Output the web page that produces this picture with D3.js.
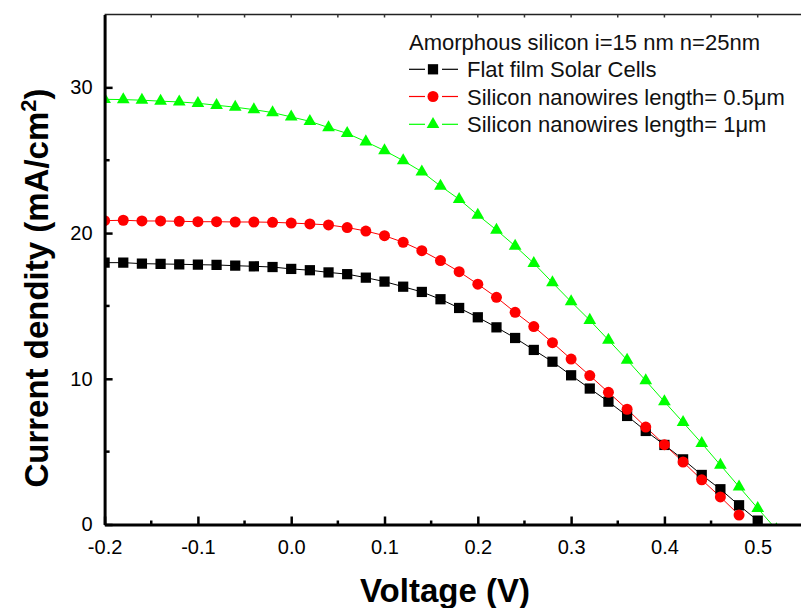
<!DOCTYPE html>
<html>
<head>
<meta charset="UTF-8">
<title>J-V curves</title>
<script src="https://cdnjs.cloudflare.com/ajax/libs/d3/7.8.5/d3.min.js"></script>
<style type="text/css">
body { margin: 0; background: #fff; }
svg { display: block; font-family: Arial, "Liberation Sans", sans-serif; }
</style>
</head>
<body>
<div class="chart"></div>
<script>
// voltage (V) and current density (mA/cm2)
var voltFlat = [-0.20,-0.18,-0.16,-0.14,-0.12,-0.10,-0.08,-0.06,-0.04,-0.02,0.00,0.02,0.04,0.06,0.08,0.10,0.12,0.14,0.16,0.18,0.20,0.22,0.24,0.26,0.28,0.30,0.32,0.34,0.36,0.38,0.40,0.42,0.44,0.46,0.48,0.50];
var flatFilm = [17.97,17.97,17.90,17.88,17.86,17.83,17.81,17.76,17.72,17.67,17.54,17.45,17.30,17.18,16.94,16.67,16.32,15.96,15.46,14.86,14.22,13.53,12.80,11.98,11.17,10.24,9.33,8.43,7.45,6.42,5.46,4.47,3.40,2.42,1.32,0.26];

var voltNw05 = [-0.20,-0.18,-0.16,-0.14,-0.12,-0.10,-0.08,-0.06,-0.04,-0.02,0.00,0.02,0.04,0.06,0.08,0.10,0.12,0.14,0.16,0.18,0.20,0.22,0.24,0.26,0.28,0.30,0.32,0.34,0.36,0.38,0.40,0.42,0.44,0.46,0.48];
var nw05 = [20.85,20.88,20.83,20.83,20.81,20.78,20.78,20.76,20.76,20.74,20.69,20.63,20.56,20.38,20.14,19.82,19.37,18.79,18.11,17.35,16.49,15.59,14.56,13.58,12.48,11.35,10.22,9.07,7.91,6.69,5.48,4.29,3.07,1.89,0.65];

var voltNw1 = [-0.20,-0.18,-0.16,-0.14,-0.12,-0.10,-0.08,-0.06,-0.04,-0.02,0.00,0.02,0.04,0.06,0.08,0.10,0.12,0.14,0.16,0.18,0.20,0.22,0.24,0.26,0.28,0.30,0.32,0.34,0.36,0.38,0.40,0.42,0.44,0.46,0.48,0.50,0.52];
var nw1 = [29.18,29.16,29.12,29.05,29.00,28.91,28.77,28.64,28.47,28.27,27.97,27.67,27.24,26.84,26.27,25.66,24.97,24.21,23.23,22.32,21.24,20.21,19.11,17.93,16.60,15.29,14.02,12.66,11.29,9.87,8.43,7.01,5.57,4.08,2.59,1.11,-0.35];

var xTicks = [-0.2,-0.1,0.0,0.1,0.2,0.3,0.4,0.5];
var yTicks = [0,10,20,30];
var legendTitle = "Amorphous silicon i=15 nm n=25nm";
var seriesNames = ["Flat film Solar Cells","Silicon nanowires length= 0.5\u03bcm","Silicon nanowires length= 1\u03bcm"];

var series = [
  {name: seriesNames[0], x: voltFlat, y: flatFilm, color: "#000000", shape: d3.symbolSquare, size: 105},
  {name: seriesNames[1], x: voltNw05, y: nw05, color: "#ff0000", shape: d3.symbolCircle, size: 95},
  {name: seriesNames[2], x: voltNw1, y: nw1, color: "#00ff00", shape: d3.symbolTriangle, size: 70}
];

var W = 801, H = 608;
var svg = d3.select(".chart").append("svg")
  .attr("width", W)
  .attr("height", H);

var x = d3.scaleLinear().domain([-0.2, 0.56]).range([104.6, 813.7]);
var y = d3.scaleLinear().domain([0, 35]).range([524.5, 14.5]);

svg.append("clipPath").attr("id","plotclip")
  .append("rect")
  .attr("x", x(-0.2)).attr("y", y(35))
  .attr("width", x(0.56)-x(-0.2)).attr("height", y(0)-y(35));

// top frame line
svg.append("line")
  .attr("x1", x(-0.2)).attr("x2", x(0.56))
  .attr("y1", y(35)).attr("y2", y(35))
  .attr("stroke","#222").attr("stroke-width",1.6);

// top minor ticks
var topTicks = d3.range(-0.15, 0.55, 0.05);
svg.selectAll(".ttick").data(topTicks).enter().append("line")
  .attr("x1", function(d){ return x(d); }).attr("x2", function(d){ return x(d); })
  .attr("y1", y(35)).attr("y2", y(35)+3)
  .attr("stroke","#333").attr("stroke-width",1.5);

// lines and markers
var line = d3.line()
  .x(function(d){ return x(d[0]); })
  .y(function(d){ return y(d[1]); });

var plot = svg.append("g").attr("clip-path","url(#plotclip)");

series.forEach(function(s){
  var pts = s.x.map(function(v,i){ return [v, s.y[i]]; });
  plot.append("path")
    .datum(pts)
    .attr("d", line)
    .attr("fill","none")
    .attr("stroke", s.color)
    .attr("stroke-width", 1);
});

series.forEach(function(s){
  var pts = s.x.map(function(v,i){ return [v, s.y[i]]; });
  plot.selectAll(null).data(pts).enter().append("path")
    .attr("d", d3.symbol().type(s.shape).size(s.size))
    .attr("transform", function(d){ return "translate(" + x(d[0]) + "," + y(d[1]) + ")"; })
    .attr("fill", s.color);
});

// bottom axis
var xAxis = d3.axisBottom(x)
  .tickValues(xTicks)
  .tickSizeInner(-8)
  .tickSizeOuter(0)
  .tickPadding(15)
  .tickFormat(d3.format(".1f"));
var gx = svg.append("g")
  .attr("transform","translate(0," + y(0) + ")")
  .call(xAxis);
gx.select(".domain").attr("stroke","#000").attr("stroke-width",3);
gx.selectAll(".tick line").attr("stroke","#000").attr("stroke-width",2.5);
gx.selectAll(".tick text").attr("font-size",20).attr("font-family","Arial, 'Liberation Sans', sans-serif").attr("fill","#000");
gx.selectAll(".tick text").text(function(d){ return d3.format(".1f")(d).replace("\u2212","-"); });

// x minor ticks
var xMinor = d3.range(-0.15, 0.55, 0.1);
svg.selectAll(".xminor").data(xMinor).enter().append("line")
  .attr("x1", function(d){ return x(d); }).attr("x2", function(d){ return x(d); })
  .attr("y1", y(0)).attr("y2", y(0)-4)
  .attr("stroke","#000").attr("stroke-width",2.5);

// left axis
var yAxis = d3.axisLeft(y)
  .tickValues(yTicks)
  .tickSizeInner(-8)
  .tickSizeOuter(0)
  .tickPadding(12);
var gy = svg.append("g")
  .attr("transform","translate(" + x(-0.2) + ",0)")
  .call(yAxis);
gy.select(".domain").attr("stroke","#000").attr("stroke-width",3);
gy.selectAll(".tick line").attr("stroke","#000").attr("stroke-width",2.5);
gy.selectAll(".tick text").attr("font-size",20).attr("font-family","Arial, 'Liberation Sans', sans-serif").attr("fill","#000");

var yMinor = [5,15,25];
svg.selectAll(".yminor").data(yMinor).enter().append("line")
  .attr("x1", x(-0.2)).attr("x2", x(-0.2)+5)
  .attr("y1", function(d){ return y(d); }).attr("y2", function(d){ return y(d); })
  .attr("stroke","#000").attr("stroke-width",2.5);

// axis titles
svg.append("text")
  .attr("x", 445).attr("y", 602)
  .attr("text-anchor","middle")
  .attr("font-size",33).attr("font-weight","bold")
  .text("Voltage (V)");

var yt = svg.append("text")
  .attr("transform","translate(48,288) rotate(-90)")
  .attr("text-anchor","middle")
  .attr("font-size",33).attr("font-weight","bold");
yt.append("tspan").text("Current dendity (mA/cm");
yt.append("tspan").attr("baseline-shift","super").attr("font-size",22).text("2");
yt.append("tspan").text(")");

// legend
var lg = svg.append("g");
lg.append("text")
  .attr("x", 409).attr("y", 49.5)
  .attr("font-size",22)
  .attr("fill","#111")
  .text(legendTitle);

var rowY = [69.3, 96.5, 124.3];
series.forEach(function(s, i){
  var g = lg.append("g").attr("transform","translate(0," + rowY[i] + ")");
  g.append("line").attr("x1",409).attr("x2",425).attr("y1",0).attr("y2",0)
    .attr("stroke", s.color).attr("stroke-width",1.2);
  g.append("line").attr("x1",442).attr("x2",458).attr("y1",0).attr("y2",0)
    .attr("stroke", s.color).attr("stroke-width",1.2);
  g.append("path")
    .attr("d", d3.symbol().type(s.shape).size(s.size))
    .attr("transform","translate(433,0)")
    .attr("fill", s.color);
  g.append("text")
    .attr("x", 467).attr("y", 8)
    .attr("font-size",22)
    .attr("fill","#111")
    .text(s.name);
});
</script>
</body>
</html>
